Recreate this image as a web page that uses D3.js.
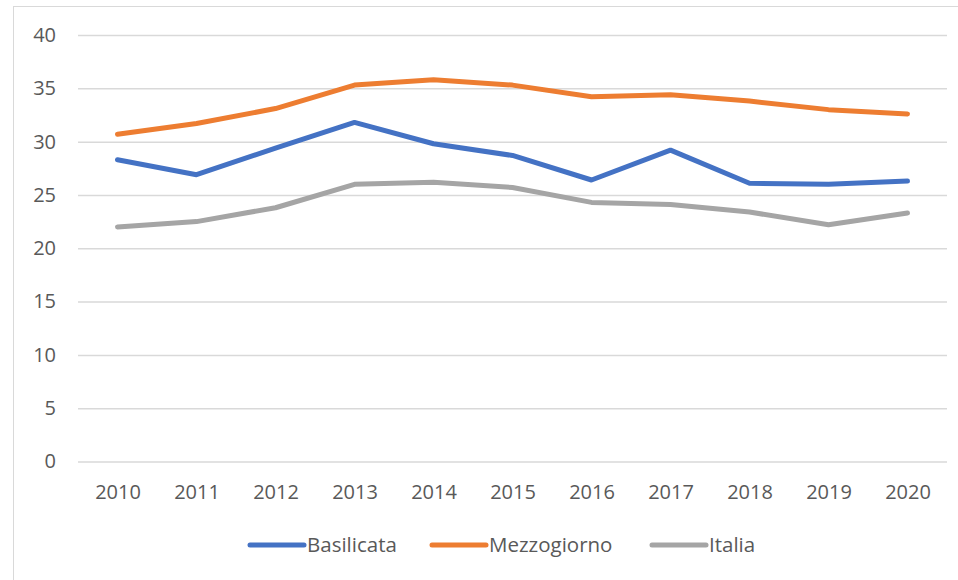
<!DOCTYPE html>
<html>
<head>
<meta charset="utf-8">
<script src="https://cdn.jsdelivr.net/npm/d3@7"></script>
<style>
  body { margin: 0; background: #fff; }
  text { font-family: "Open Sans", "Liberation Sans", sans-serif; fill: #595959; }
</style>
</head>
<body>
<div id="chart"></div>
<script>
// data
var years = ["2010", "2011", "2012", "2013", "2014", "2015", "2016", "2017", "2018", "2019", "2020"];
var basilicata = [28.3, 26.9, 29.4, 31.8, 29.8, 28.7, 26.4, 29.2, 26.1, 26.0, 26.3];
var mezzogiorno = [30.7, 31.7, 33.1, 35.3, 35.8, 35.3, 34.2, 34.4, 33.8, 33.0, 32.6];
var italia = [22.0, 22.5, 23.8, 26.0, 26.2, 25.7, 24.3, 24.1, 23.4, 22.2, 23.3];
var yTicks = [0, 5, 10, 15, 20, 25, 30, 35, 40];

var series = [
  {name: "Basilicata", values: basilicata, color: "#4472C4"},
  {name: "Mezzogiorno", values: mezzogiorno, color: "#ED7D31"},
  {name: "Italia", values: italia, color: "#A5A5A5"}
];

var W = 958, H = 580;
var margin = {top: 35, right: 11, bottom: 119, left: 78},
    width = W - margin.left - margin.right,
    height = H - margin.top - margin.bottom;

var svg = d3.select("#chart").append("svg")
    .attr("width", W)
    .attr("height", H);

// chart border
svg.append("rect")
    .attr("x", 13.5).attr("y", 6.5)
    .attr("width", 960).attr("height", 600)
    .attr("fill", "none")
    .attr("stroke", "#D9D9D9");

var g = svg.append("g")
    .attr("transform", "translate(" + margin.left + "," + margin.top + ")");

var x = d3.scalePoint()
    .domain(years)
    .range([0, width])
    .padding(0.5);

var y = d3.scaleLinear()
    .domain([0, 40])
    .range([height + 0.5, 0]);

// gridlines
var yAxis = g.append("g")
    .call(d3.axisLeft(y).tickValues(yTicks).tickSize(-width).tickPadding(22));
yAxis.select(".domain").remove();
yAxis.selectAll(".tick line").attr("stroke", "#D9D9D9").attr("stroke-width", 1.5);
yAxis.selectAll(".tick text")
    .style("font-size", "20px")
    .attr("fill", "#595959");

// x labels
var xAxis = g.append("g")
    .attr("transform", "translate(0," + height + ")")
    .call(d3.axisBottom(x).tickSize(0).tickPadding(24));
xAxis.select(".domain").remove();
xAxis.selectAll(".tick text")
    .style("font-size", "20px")
    .attr("fill", "#595959");

// lines
var line = d3.line()
    .x(function(d, i) { return x(years[i]); })
    .y(function(d) { return y(d); });

g.selectAll(".series")
  .data(series)
  .enter().append("path")
    .attr("class", "series")
    .attr("d", function(d) { return line(d.values); })
    .attr("fill", "none")
    .attr("stroke", function(d) { return d.color; })
    .attr("stroke-width", 5)
    .attr("stroke-linejoin", "round")
    .attr("stroke-linecap", "round");

// legend
var legendX = [250, 432, 652];
var legend = svg.selectAll(".legend")
  .data(series)
  .enter().append("g")
    .attr("class", "legend")
    .attr("transform", function(d, i) { return "translate(" + legendX[i] + ",545)"; });

legend.append("line")
    .attr("x1", 0).attr("x2", 54)
    .attr("stroke", function(d) { return d.color; })
    .attr("stroke-width", 5)
    .attr("stroke-linecap", "round");

legend.append("text")
    .attr("x", 57)
    .attr("dy", "0.35em")
    .style("font-size", "20.5px")
    .text(function(d) { return d.name; });
</script>
</body>
</html>
